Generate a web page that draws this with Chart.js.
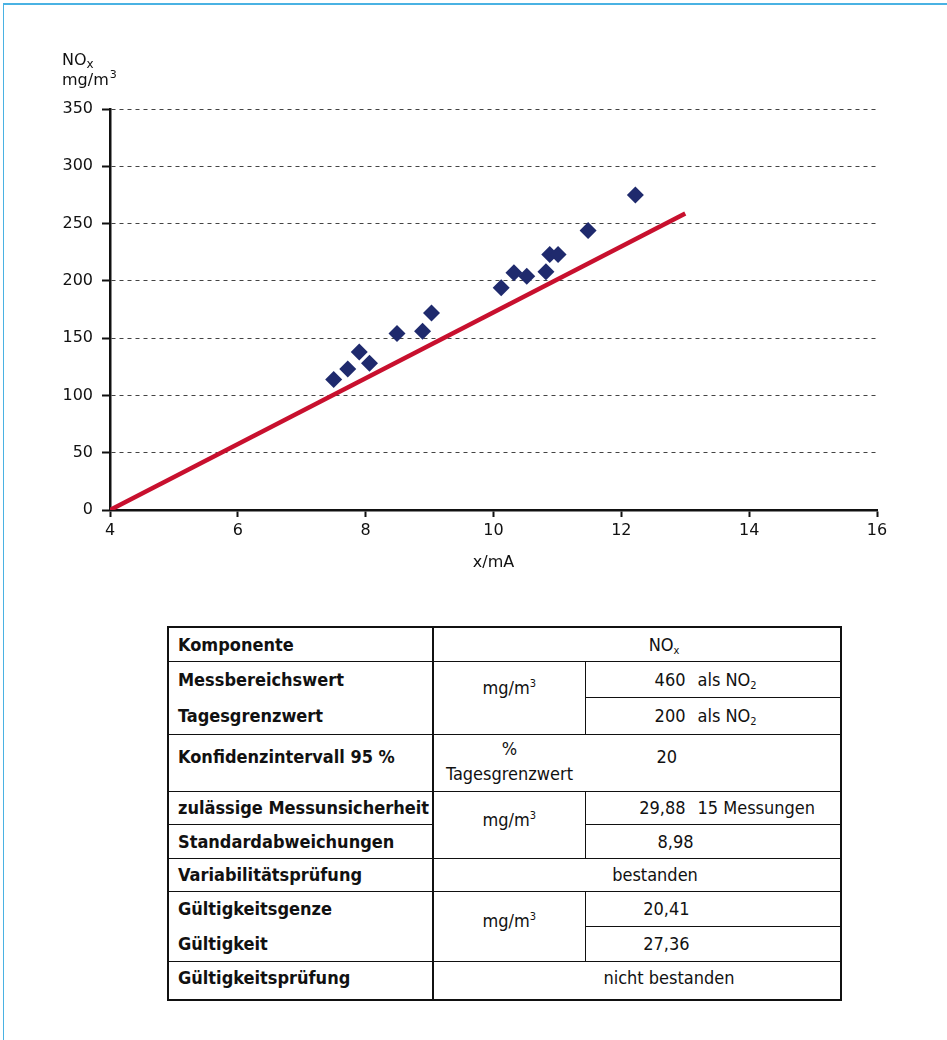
<!DOCTYPE html>
<html>
<head>
<meta charset="utf-8">
<script src="https://cdn.jsdelivr.net/npm/chart.js@4.4.1/dist/chart.umd.min.js"></script>
<style>
  body { margin: 0; background: #fff; width: 947px; height: 1040px; position: relative; overflow: hidden; font-family: "DejaVu Sans", sans-serif; }
  #frame { position: absolute; left: 3px; top: 3px; right: 0; bottom: 0; border-top: 2px solid #4ab2e3; border-left: 1px solid #4ab2e3; }
  #chart { position: absolute; left: 0; top: 0; }
  table { position: absolute; left: 167px; top: 626px; width: 673px; border-collapse: collapse; table-layout: fixed;
          border: 2px solid #111; color: #111; font-family: "DejaVu Sans Condensed", "DejaVu Sans", sans-serif;
          font-stretch: condensed; font-size: 18px; line-height: 21px; }
  td { border: 1px solid #111; padding: 0; vertical-align: middle; white-space: nowrap; }
  td.c1 { font-weight: bold; padding-left: 9px; border-right: 2px solid #111; }
  td.c2 { text-align: center; }
  td.c3 { text-align: left; }
  td.span { text-align: center; }
  .num { display: inline-block; width: 100px; text-align: right; }
  .unit { margin-left: 12px; }
  sub { font-size: 11px; vertical-align: -3px; line-height: 0; }
  sup { font-size: 11px; vertical-align: 7px; line-height: 0; }
  .nt { border-top-style: hidden; }
  .nl { border-left-style: hidden; }
</style>
</head>
<body>
<div id="frame"></div>
<canvas id="chart" width="947" height="600"></canvas>

<table>
  <colgroup><col style="width:265px"><col style="width:152px"><col style="width:256px"></colgroup>
  <tr style="height:34px">
    <td class="c1">Komponente</td>
    <td class="span" colspan="2" style="padding-left:54px">NO<sub>x</sub></td>
  </tr>
  <tr style="height:36px">
    <td class="c1">Messbereichswert</td>
    <td class="c2" rowspan="2" style="padding-bottom:20px">mg/m<sup>3</sup></td>
    <td class="c3"><span class="num">460</span><span class="unit">als NO<sub>2</sub></span></td>
  </tr>
  <tr style="height:37px">
    <td class="c1 nt">Tagesgrenzwert</td>
    <td class="c3"><span class="num">200</span><span class="unit">als NO<sub>2</sub></span></td>
  </tr>
  <tr style="height:57px">
    <td class="c1" style="vertical-align:top;padding-top:11px">Konfidenzintervall 95 %</td>
    <td class="c2" style="vertical-align:top;padding-top:1px;line-height:25px">%<br>Tagesgrenzwert</td>
    <td class="c3 nl" style="vertical-align:top;padding-top:11px"><span class="num" style="width:92px">20</span></td>
  </tr>
  <tr style="height:33px">
    <td class="c1">zulässige Messunsicherheit</td>
    <td class="c2" rowspan="2" style="padding-bottom:10px">mg/m<sup>3</sup></td>
    <td class="c3"><span class="num">29,88</span><span class="unit">15 Messungen</span></td>
  </tr>
  <tr style="height:34px">
    <td class="c1">Standardabweichungen</td>
    <td class="c3"><span class="num" style="width:108px">8,98</span></td>
  </tr>
  <tr style="height:33px">
    <td class="c1">Variabilitätsprüfung</td>
    <td class="span" colspan="2" style="padding-left:36px">bestanden</td>
  </tr>
  <tr style="height:35px">
    <td class="c1">Gültigkeitsgenze</td>
    <td class="c2" rowspan="2" style="padding-bottom:12px">mg/m<sup>3</sup></td>
    <td class="c3"><span class="num" style="width:104px">20,41</span></td>
  </tr>
  <tr style="height:35px">
    <td class="c1 nt">Gültigkeit</td>
    <td class="c3"><span class="num" style="width:104px">27,36</span></td>
  </tr>
  <tr style="height:39px">
    <td class="c1" style="vertical-align:top;padding-top:5px">Gültigkeitsprüfung</td>
    <td class="span" colspan="2" style="vertical-align:top;padding-top:5px;padding-left:64px">nicht bestanden</td>
  </tr>
</table>

<script>
// measured points (x in mA, NOx in mg/m3)
var pointX = [7.50, 7.72, 7.90, 8.06, 8.49, 8.89, 9.03, 10.12, 10.32, 10.52, 10.82, 10.88, 11.01, 11.48, 12.22];
var pointY = [114, 123, 138, 128, 154, 156, 172, 194, 207, 204, 208, 223, 223, 244, 275];

// reference line
var lineX = [4, 13];
var lineY = [0, 258.75];

// axis ticks
var xTicks = [4, 6, 8, 10, 12, 14, 16];
var yTicks = [0, 50, 100, 150, 200, 250, 300, 350];

var ink = "#111";

Chart.defaults.font.family = '"DejaVu Sans", sans-serif';
Chart.defaults.font.size = 16;
Chart.defaults.color = ink;

// "NOx / mg/m3" above the y axis
var yTitle = {
    id: "yTitle",
    afterDraw: function(chart) {
        var ctx = chart.ctx;
        var x = chart.chartArea.left - 48;
        var top = chart.chartArea.top;
        ctx.save();
        ctx.fillStyle = ink;
        ctx.textAlign = "left";
        ctx.textBaseline = "alphabetic";
        ctx.font = '16px "DejaVu Sans"';
        ctx.fillText("NO", x, top - 44);
        var w = ctx.measureText("NO").width;
        ctx.fillText("mg/m", x, top - 24);
        var w2 = ctx.measureText("mg/m").width;
        ctx.font = '12px "DejaVu Sans"';
        ctx.fillText("x", x + w, top - 41);
        ctx.font = '11px "DejaVu Sans"';
        ctx.fillText("3", x + w2 + 1, top - 31);
        ctx.restore();
    }
};

var points = pointX.map(function(v, i) { return {x: v, y: pointY[i]}; });
var line = lineX.map(function(v, i) { return {x: v, y: lineY[i]}; });

new Chart(document.getElementById("chart"), {
    type: "scatter",
    data: {
        datasets: [
            {
                label: "Messwerte",
                data: points,
                pointStyle: "rectRot",
                pointRadius: 8.5,
                backgroundColor: "#1f2a6d",
                borderColor: "#1f2a6d",
                borderWidth: 0,
                order: 0
            },
            {
                label: "Kennlinie",
                data: line,
                showLine: true,
                pointRadius: 0,
                borderColor: "#c8102e",
                borderWidth: 4.5,
                fill: false,
                order: 1
            }
        ]
    },
    options: {
        responsive: false,
        animation: false,
        devicePixelRatio: 1,
        layout: { padding: { left: 0, right: 70, top: 109, bottom: 28 } },
        plugins: {
            legend: { display: false },
            tooltip: { enabled: false }
        },
        scales: {
            x: {
                type: "linear",
                min: 4,
                max: 16,
                afterBuildTicks: function(s) { s.ticks = xTicks.map(function(v) { return {value: v}; }); },
                afterFit: function(s) { s.height = 62; },
                ticks: { padding: 4, color: ink },
                grid: { drawOnChartArea: false, tickLength: 7, tickColor: ink, tickWidth: 2 },
                border: { color: ink, width: 2.5 },
                title: { display: true, text: "x/mA", color: ink, font: { size: 16 }, padding: { top: 0, bottom: 0 } }
            },
            y: {
                type: "linear",
                min: 0,
                max: 350,
                afterBuildTicks: function(s) { s.ticks = yTicks.map(function(v) { return {value: v}; }); },
                afterFit: function(s) { s.width = 110; },
                ticks: { padding: 9, color: ink },
                grid: { color: "#444", lineWidth: 1, tickLength: 8, tickColor: ink, tickWidth: 2 },
                border: { color: ink, width: 2.5, dash: [4, 4] }
            }
        }
    },
    plugins: [yTitle]
});
</script>
</body>
</html>
